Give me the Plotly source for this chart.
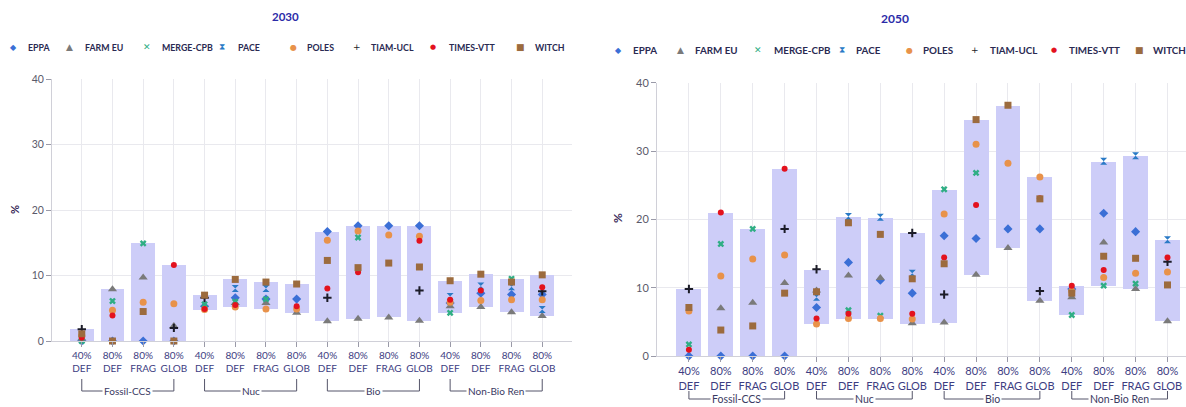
import plotly.graph_objects as go

W, H = 1186, 407

models = ["EPPA", "FARM EU", "MERGE-CPB", "PACE", "POLES", "TIAM-UCL", "TIMES-VTT", "WITCH"]
tick_labels = ["40%<br>DEF", "80%<br>DEF", "80%<br>FRAG", "80%<br>GLOB"] * 4
groups = ["Fossil-CCS", "Nuc", "Bio", "Non-Bio Ren"]
N = None

# ---- 2030 values (%), 16 categories ----
eppa_2030 = [0, 0, 0, 0, 5.3, 6.6, 6.4, 6.4, 16.7, 17.6, 17.6, 17.6, 5.8, 7.3, 7.1, 7.1]
farm_2030 = [0.4, 7.9, 9.7, 2.3, N, 5.8, 5.8, 4.3, 3.0, 3.4, 3.6, 3.1, 5.3, 5.2, 4.4, 3.8]
merge_2030 = [0, 6.1, 14.9, N, 5.6, 6.0, 6.4, N, N, 15.8, N, N, 4.3, N, 9.5, N]
pace_2030 = [N, N, N, N, N, 8.0, 8.0, N, N, N, N, N, 6.8, 8.4, 8.3, 4.8]
poles_2030 = [0.8, 4.7, 5.9, 5.7, 4.8, 5.2, 4.9, 4.9, 15.4, 16.8, 16.2, 16.0, 5.9, 6.2, 6.3, 6.3]
tiam_2030 = [1.8, N, N, 2.0, 6.6, N, N, N, 6.6, N, N, 7.7, N, N, N, 7.6]
times_2030 = [0.5, 3.9, N, 11.6, 4.9, 5.5, N, 5.3, 8.0, 10.5, N, 15.3, 6.3, 7.7, N, 8.2]
witch_2030 = [1.1, 0, 4.5, 0, 7.0, 9.4, 9.0, 8.7, 12.3, 11.2, 11.9, 11.3, 9.2, 10.2, 9.0, 10.1]

# ---- 2050 values (%), 16 categories ----
eppa_2050 = [0, 0, 0, 0, 7.1, 13.7, 11.1, 9.2, 17.6, 17.2, 18.6, 18.6, 9.8, 20.9, 18.2, N]
farm_2050 = [N, 7.0, 7.8, 10.7, 9.6, 11.8, 11.4, 4.8, 4.9, 11.9, 15.8, 8.1, 8.6, 16.6, 9.8, 5.1]
merge_2050 = [1.7, 16.4, 18.6, N, N, 6.7, 5.9, N, 24.4, 26.8, N, N, 6.0, 10.3, 10.6, N]
pace_2050 = [N, N, N, N, 8.6, 20.4, 20.3, 12.1, N, N, N, N, N, 28.5, 29.3, 17.0]
poles_2050 = [6.6, 11.7, 14.2, 14.8, 4.7, 5.5, 5.5, 5.4, 20.8, 31.0, 28.2, 26.2, 9.5, 11.5, 12.1, 12.3]
tiam_2050 = [9.8, N, N, 18.6, 12.7, N, N, 18.0, 9.0, N, N, 9.5, N, N, N, 13.8]
times_2050 = [0.9, 21.0, N, 27.4, 5.5, 6.2, N, 6.2, 14.4, 22.1, N, 23.1, 10.3, 12.6, N, 14.4]
witch_2050 = [7.1, 3.8, 4.4, 9.2, 9.4, 19.5, 17.8, 11.3, 13.5, 34.6, 36.7, 23.0, 9.2, 14.6, 14.3, 10.4]

data_2030 = [eppa_2030, farm_2030, merge_2030, pace_2030, poles_2030, tiam_2030, times_2030, witch_2030]
data_2050 = [eppa_2050, farm_2050, merge_2050, pace_2050, poles_2050, tiam_2050, times_2050, witch_2050]

styles = [
    dict(symbol="diamond", color="#3b6fd6", size=7, lw=0),
    dict(symbol="triangle-up", color="#7a7a7a", size=8, lw=0),
    dict(symbol="x", color="#2fae84", size=6, lw=0),
    dict(symbol="hourglass", color="#2a7ac6", size=7, lw=0),
    dict(symbol="circle", color="#e8924a", size=7, lw=0),
    dict(symbol="cross-thin", color="#1c1c28", size=6, lw=2),
    dict(symbol="circle", color="#e3121e", size=6, lw=0),
    dict(symbol="square", color="#9c6b3e", size=7, lw=0),
]
legend_glyphs = ["◆", "▲", "✕", "⧗", "●", "+", "●", "■"]

FONT = "Lato"
x_idx = list(range(len(tick_labels)))

fig = go.Figure()


def add_panel(data, xa, ya):
    lo, hi = [], []
    for i in x_idx:
        vals = [s[i] for s in data if s[i] is not None]
        lo.append(min(vals))
        hi.append(max(vals))
    fig.add_trace(go.Bar(
        x=x_idx, y=[h - l for h, l in zip(hi, lo)], base=lo, width=0.78,
        marker=dict(color="#cdcdf8", line=dict(width=0)),
        xaxis=xa, yaxis=ya, showlegend=False, hoverinfo="skip"))
    for name, series, st in zip(models, data, styles):
        fig.add_trace(go.Scatter(
            x=x_idx, y=series, mode="markers", name=name, showlegend=False,
            cliponaxis=False, xaxis=xa, yaxis=ya,
            marker=dict(symbol=st["symbol"], size=st["size"], color=st["color"],
                        line=dict(width=st["lw"], color=st["color"]))))


add_panel(data_2030, "x", "y")
add_panel(data_2050, "x2", "y2")

axis_common = dict(showgrid=True, gridcolor="#e9e9ee", gridwidth=1, zeroline=False,
                   showline=True, linecolor="#d0d0d8", linewidth=1,
                   ticks="outside", tickcolor="#9a9aa8", ticklen=5, automargin=False)

fig.update_layout(
    width=W, height=H, margin=dict(l=0, r=0, t=0, b=0, autoexpand=False),
    paper_bgcolor="white", plot_bgcolor="white", bargap=0, barmode="overlay",
    showlegend=False,
    font=dict(family=FONT, color="#3a3a70"),
    xaxis=dict(domain=[52 / W, 572 / W], range=[-0.97, 15.97], anchor="y",
               tickvals=x_idx, ticktext=tick_labels,
               tickfont=dict(size=10, color="#3d3d82"), **axis_common),
    yaxis=dict(domain=[66 / H, 328 / H], range=[0, 40], anchor="x",
               tickvals=[0, 10, 20, 30, 40], tickfont=dict(size=10.5, color="#5a5a6a"),
               **axis_common),
    xaxis2=dict(domain=[657 / W, 1.0], range=[-1.0, 15.58], anchor="y2",
                tickvals=x_idx, ticktext=tick_labels,
                tickfont=dict(size=11, color="#3d3d82"), **axis_common),
    yaxis2=dict(domain=[51 / H, 324.3 / H], range=[0, 40], anchor="x2",
                tickvals=[0, 10, 20, 30, 40], tickfont=dict(size=11, color="#5a5a6a"),
                **axis_common),
)


def P(px, py):
    return px / W, (H - py) / H


ann = []
# titles
for txt, (px, py), fs in [("2030", (285, 17), 11.5), ("2050", (895, 18), 12)]:
    x, y = P(px, py)
    ann.append(dict(text="<b>" + txt + "</b>", x=x, y=y, xref="paper", yref="paper",
                    xanchor="center", yanchor="middle", showarrow=False,
                    font=dict(size=fs, color="#2b2ba8", family=FONT)))
# y titles
for (px, py), fs in [((15, 210), 11), ((617, 218), 12)]:
    x, y = P(px, py)
    ann.append(dict(text="<b>%</b>", x=x, y=y, xref="paper", yref="paper",
                    xanchor="center", yanchor="middle", textangle=-90, showarrow=False,
                    font=dict(size=fs, color="#3a2a5a", family=FONT)))

# legends (glyph + label)
leg_left = [(13, 26), (69, 83), (147, 160), (222, 236), (293, 305), (357, 369), (433, 447), (520, 533)]
leg_right = [(618, 631), (680, 693), (758, 772), (842, 854), (909, 921), (975, 988), (1054, 1067), (1139, 1151)]
for positions, ly, fs in [(leg_left, 47, 8.8), (leg_right, 50, 9.8)]:
    for (mx, tx), name, st, g in zip(positions, models, styles, legend_glyphs):
        gsize = 8 if g in ("●", "◆") else 9
        if st["symbol"] == "circle" and st["size"] < 7:
            gsize = 7
        x, y = P(mx, ly)
        ann.append(dict(text=g, x=x, y=y, xref="paper", yref="paper",
                        xanchor="center", yanchor="middle", showarrow=False,
                        font=dict(size=gsize, color=st["color"], family="DejaVu Sans")))
        x, y = P(tx, ly)
        ann.append(dict(text="<b>" + name + "</b>", x=x, y=y,
                        xref="paper", yref="paper", xanchor="left", yanchor="middle",
                        showarrow=False, font=dict(size=fs, color="#2a2a52", family=FONT)))

# group brackets
shapes = []
for xa, top, bot, fs in [("x", 379, 391, 10), ("x2", 391, 399, 10.5)]:
    for g, label in enumerate(groups):
        a, b = 4 * g, 4 * g + 3
        line = dict(color="#55556a", width=1)
        y_top, y_bot = (H - top) / H, (H - bot) / H
        shapes.append(dict(type="line", xref=xa, yref="paper", x0=a, x1=a,
                           y0=y_top, y1=y_bot, line=line))
        shapes.append(dict(type="line", xref=xa, yref="paper", x0=b, x1=b,
                           y0=y_top, y1=y_bot, line=line))
        shapes.append(dict(type="line", xref=xa, yref="paper", x0=a, x1=b,
                           y0=y_bot, y1=y_bot, line=line))
        ann.append(dict(text=label, x=(a + b) / 2, y=y_bot, xref=xa, yref="paper",
                        xanchor="center", yanchor="middle", showarrow=False,
                        bgcolor="white", borderpad=1,
                        font=dict(size=fs, color="#3a3a62", family=FONT)))

fig.update_layout(annotations=ann, shapes=shapes)
fig.write_html(
    "out.html",
    config={"displayModeBar": False},
    post_script="document.body.style.margin='0';document.body.style.overflow='hidden';",
)
